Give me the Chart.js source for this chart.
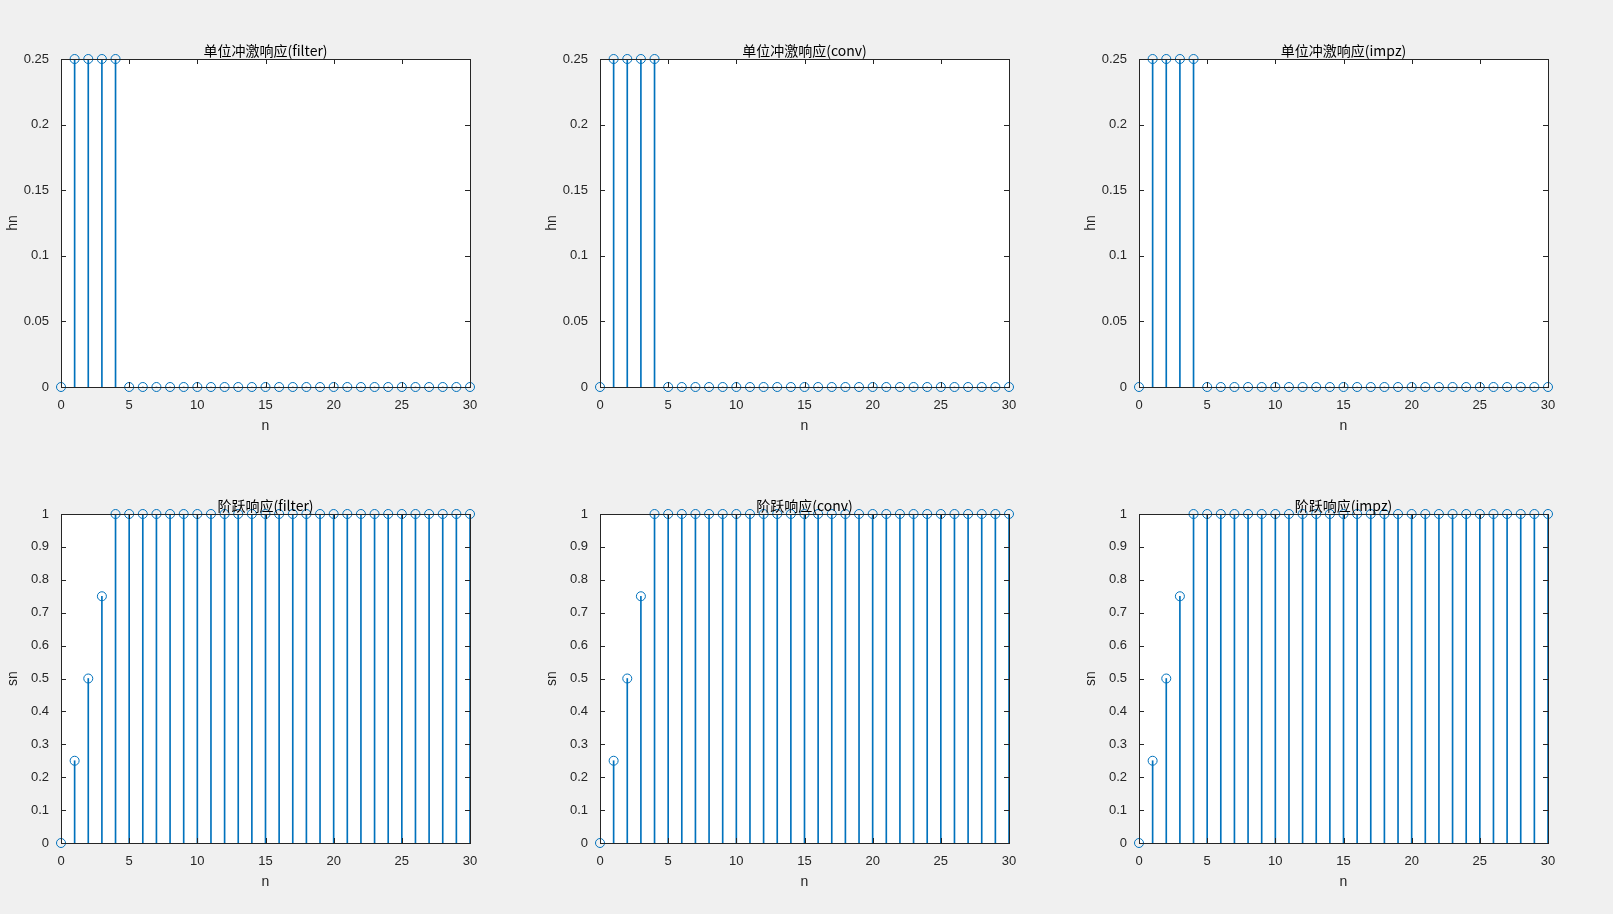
<!DOCTYPE html>
<html><head><meta charset="utf-8">
<script src="https://cdn.jsdelivr.net/npm/chart.js@4/dist/chart.umd.min.js"></script>
<style>
body{margin:0;background:#f0f0f0;width:1613px;height:914px;overflow:hidden;position:relative}
canvas{position:absolute}
</style></head><body>
<script>
const n = Array.from({length:31},(_,i)=>i);
const hn = [0,0.25,0.25,0.25,0.25,0,0,0,0,0,0,0,0,0,0,0,0,0,0,0,0,0,0,0,0,0,0,0,0,0,0];
const sn = [0,0.25,0.5,0.75,1,1,1,1,1,1,1,1,1,1,1,1,1,1,1,1,1,1,1,1,1,1,1,1,1,1,1];
const titles = ['单位冲激响应(filter)','单位冲激响应(conv)','单位冲激响应(impz)','阶跃响应(filter)','阶跃响应(conv)','阶跃响应(impz)'];
const colsX = [61,600,1139];
const rowsY = [59,514];
const plotW = 409, plotH = [328,329];
const C = '#0072BD';
const PL=60, PT=30, PR=14, PB=52;
const FF = 'Liberation Sans, Arial, sans-serif';

const boxPlugin = {
  id:'box',
  beforeDatasetsDraw(ch){
    const {ctx, chartArea:a} = ch;
    ctx.save(); ctx.fillStyle='#fff'; ctx.fillRect(a.left,a.top,a.right-a.left,a.bottom-a.top); ctx.restore();
  },
  afterDraw(ch){
    const {ctx, chartArea:a, scales:{x,y}} = ch;
    ctx.save();
    ctx.strokeStyle='#262626'; ctx.lineWidth=1;
    ctx.strokeRect(Math.round(a.left)+0.5, Math.round(a.top)+0.5, Math.round(a.right-a.left), Math.round(a.bottom-a.top));
    ctx.beginPath();
    x.ticks.forEach(t=>{const px=Math.round(x.getPixelForValue(t.value))+0.5;
      ctx.moveTo(px,a.bottom); ctx.lineTo(px,a.bottom-5); ctx.moveTo(px,a.top); ctx.lineTo(px,a.top+5);});
    y.ticks.forEach(t=>{const py=Math.round(y.getPixelForValue(t.value))+0.5;
      ctx.moveTo(a.left,py); ctx.lineTo(a.left+5,py); ctx.moveTo(a.right,py); ctx.lineTo(a.right-5,py);});
    ctx.stroke();
    ctx.fillStyle='#000';
    ctx.font='14px "Noto Sans CJK SC", sans-serif';
    ctx.textAlign='center'; ctx.textBaseline='bottom';
    ctx.fillText(ch.options.plugins.box.title,(a.left+a.right)/2,a.top-1);
    ctx.restore();
  }
};

for(let k=0;k<6;k++){
  const r = Math.floor(k/3), c = k%3;
  const vals = r===0?hn:sn;
  const cv = document.createElement('canvas');
  const W = plotW+PL+PR, H = plotH[r]+PT+PB;
  cv.width=W; cv.height=H;
  cv.style.left=(colsX[c]-PL)+'px'; cv.style.top=(rowsY[r]-PT)+'px';
  cv.style.width=W+'px'; cv.style.height=H+'px';
  document.body.appendChild(cv);
  const pts = n.map((v,i)=>({x:v,y:vals[i]}));
  new Chart(cv,{
    data:{datasets:[
      {type:'bar',data:pts,backgroundColor:C,barThickness:1,borderWidth:0,order:2},
      {type:'scatter',data:pts,pointStyle:'circle',pointRadius:4.5,pointBorderColor:C,pointBackgroundColor:'rgba(0,0,0,0)',pointBorderWidth:1,showLine:false,clip:false,order:1}
    ]},
    options:{
      responsive:false,animation:false,devicePixelRatio:1,
      layout:{padding:{top:PT,right:PR,left:0,bottom:0}},
      plugins:{legend:{display:false},tooltip:{enabled:false},box:{title:titles[k]}},
      scales:{
        x:{type:'linear',min:0,max:30,offset:false,
          ticks:{stepSize:5,color:'#262626',font:{family:FF,size:13},maxRotation:0,padding:3},
          grid:{display:false},border:{display:false},
          title:{display:true,text:'n',color:'#262626',font:{family:FF,size:14},padding:{top:1}},
          afterFit(s){s.height=PB;}},
        y:{type:'linear',min:0,max:r===0?0.25:1,
          ticks:{stepSize:r===0?0.05:0.1,color:'#262626',font:{family:FF,size:13},padding:4,
            callback:v=>String(Math.round(v*100)/100)},
          grid:{display:false},border:{display:false},
          title:{display:true,text:r===0?'hn':'sn',color:'#262626',font:{family:FF,size:14},padding:{bottom:2}},
          afterFit(s){s.width=PL;}}
      }
    },
    plugins:[boxPlugin]
  });
}
</script>
</body></html>
